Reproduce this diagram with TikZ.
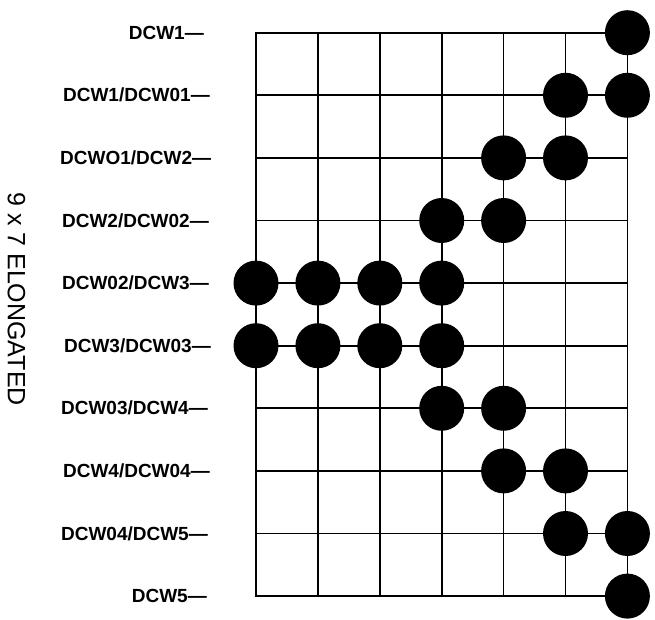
\documentclass[tikz,border=0pt]{standalone}
\usepackage{fontspec}
\setmainfont{Liberation Sans}
\begin{document}
\begin{tikzpicture}[x=1pt,y=-1pt,
  rowlabel/.style={anchor=east,inner sep=0pt,font=\fontsize{19}{19}\selectfont\bfseries},
  dot/.style={circle,fill=black,minimum size=45pt,inner sep=0pt},
  gridline/.style={line width=1.7pt,line cap=rect}]
\useasboundingbox (0,0) rectangle (655,620);
\def\colx#1{256+61.9*#1}
\def\rowy#1{32.7+62.6*#1}
% grid
\foreach \i in {0,...,6} \draw[gridline] ({\colx{\i}},{\rowy{0}}) -- ({\colx{\i}},{\rowy{9}});
\foreach \j in {0,...,9} \draw[gridline] ({\colx{0}},{\rowy{\j}}) -- ({\colx{6}},{\rowy{\j}});
% dots
\foreach \c/\r [count=\n] in {6/0, 5/1,6/1, 4/2,5/2, 3/3,4/3, 0/4,1/4,2/4,3/4, 0/5,1/5,2/5,3/5, 3/6,4/6, 4/7,5/7, 5/8,6/8, 6/9}
  \node[dot] (d\n) at ({\colx{\c}},{\rowy{\r}}) {};
% labels
\node[rowlabel] (l0) at (204,{\rowy{0}}) {DCW1—};
\node[rowlabel] (l1) at (210,{\rowy{1}}) {DCW1/DCW01—};
\node[rowlabel,anchor=west] (l2) at (60,{\rowy{2}}) {DCWO1/DCW2—};
\node[rowlabel] (l3) at (209,{\rowy{3}}) {DCW2/DCW02—};
\node[rowlabel] (l4) at (209,{\rowy{4}}) {DCW02/DCW3—};
\node[rowlabel] (l5) at (211,{\rowy{5}}) {DCW3/DCW03—};
\node[rowlabel] (l6) at (208,{\rowy{6}}) {DCW03/DCW4—};
\node[rowlabel] (l7) at (210,{\rowy{7}}) {DCW4/DCW04—};
\node[rowlabel] (l8) at (208,{\rowy{8}}) {DCW04/DCW5—};
\node[rowlabel] (l9) at (207,{\rowy{9}}) {DCW5—};
% side title
\node[rotate=-90,inner sep=0pt,font=\fontsize{25}{25}\selectfont] (title) at (16.5,299) {9 x 7 ELONGATED};
\end{tikzpicture}
\end{document}
